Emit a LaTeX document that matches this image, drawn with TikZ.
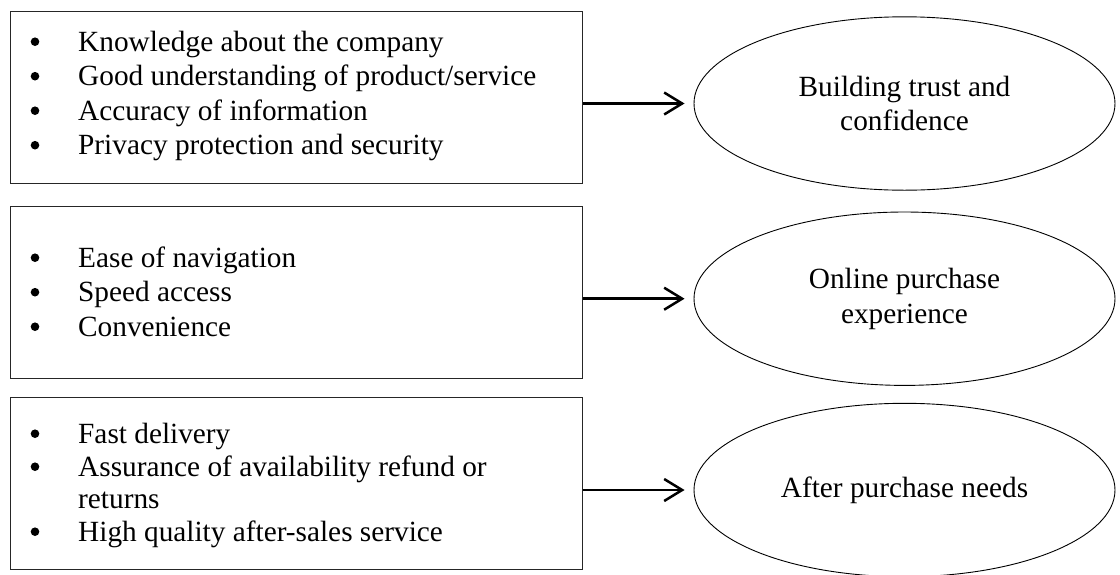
\documentclass[tikz,border=0pt]{standalone}
\usepackage{fontspec}
\setmainfont{Liberation Serif}
\usetikzlibrary{arrows.meta,shapes.geometric}
\newcommand\listfont{\fontsize{29.3pt}{34.5pt}\selectfont}
\begin{document}
\begin{tikzpicture}[x=1pt,y=-1pt,
  panel/.style={draw=black!85, line width=1pt, rectangle, anchor=north west,
    minimum width=572pt, minimum height=172pt, inner sep=0pt},
  oval/.style={draw, ellipse, line width=0.9pt, minimum width=421pt,
    minimum height=173.4pt, inner sep=0pt, align=center, font=\listfont},
  dot/.style={circle, fill=black, inner sep=0pt, minimum size=8.6pt, yshift=9.3pt},
  itm/.style={anchor=base west, inner sep=0pt, font=\listfont},
  link/.style={line width=2.5pt, shorten >=9pt,
    -{Straight Barb[length=18pt, width=22pt, line width=2.5pt]}}]
\clip (0,0) rectangle (1120,574);

% left-hand panels
\node[panel] (b1) at (10,11) {};
\node[panel] (b2) at (10,206) {};
\node[panel] (b3) at (10,397) {};

% first panel (bullets sit 9.3pt above each baseline)
\node[dot] (d11) at (35,51) {};
\node[itm] (t11) at (78,51) {Knowledge about the company};
\node[dot] (d12) at (35,85.5) {};
\node[itm] (t12) at (78,85.5) {Good understanding of product/service};
\node[dot] (d13) at (35,120) {};
\node[itm] (t13) at (78,120) {Accuracy of information};
\node[dot] (d14) at (35,154.5) {};
\node[itm] (t14) at (78,154.5) {Privacy protection and security};

% second panel
\node[dot] (d21) at (35,267) {};
\node[itm] (t21) at (78,267) {Ease of navigation};
\node[dot] (d22) at (35,301.5) {};
\node[itm] (t22) at (78,301.5) {Speed access};
\node[dot] (d23) at (35,336) {};
\node[itm] (t23) at (78,336) {Convenience};

% third panel
\node[dot] (d31) at (35,443) {};
\node[itm] (t31) at (78,443) {Fast delivery};
\node[dot] (d32) at (35,476) {};
\node[itm] (t32) at (78,476) {Assurance of availability refund or};
\node[itm] (t33) at (78,508.5) {returns};
\node[dot] (d34) at (35,541) {};
\node[itm] (t34) at (78,541) {High quality after-sales service};

% outcomes
\node[oval] (e1) at (904.5,103.5) {Building trust and\\confidence};
\node[oval] (e2) at (904.5,298.7) {Online purchase\\experience};
\node[oval] (e3) at (904.5,490) {After purchase needs};

% connectors
\draw[link] (b1.east |- e1.west) -- (e1.west);
\draw[link] (b2.east |- e2.west) -- (e2.west);
\draw[link] (b3.east |- e3.west) -- (e3.west);
\end{tikzpicture}
\end{document}
